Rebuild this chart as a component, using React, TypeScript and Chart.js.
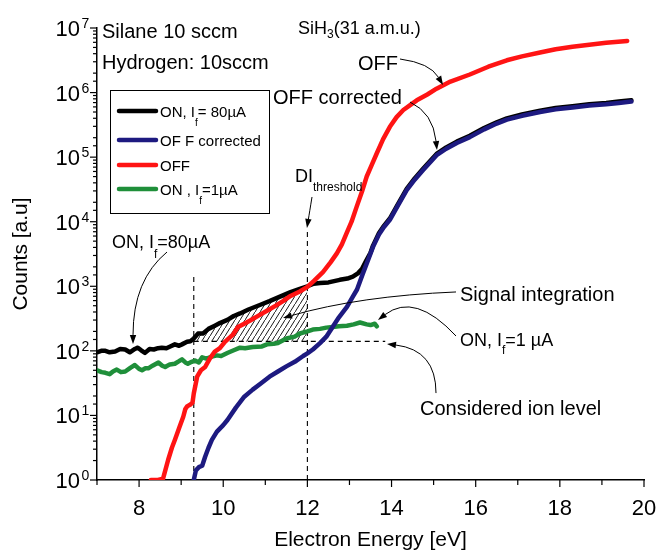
import { useEffect, useRef } from 'react';
import { Chart, registerables } from 'chart.js';

Chart.register(...registerables);

const FONT = "'Liberation Sans', Arial, Helvetica, sans-serif";

// ---------- axis ranges / ticks ----------
const X_MIN = 7;
const X_MAX = 20;
const Y_MIN = 1;
const Y_MAX = 1e7;
const xTickLabels = [8, 10, 12, 14, 16, 18, 20];

// ---------- series: ON, If = 80 µA (black) ----------
const onHighX = [7.0, 7.1, 7.2, 7.3, 7.43, 7.55, 7.67, 7.78, 7.9, 7.97, 8.05, 8.14, 8.25, 8.35, 8.45, 8.54, 8.65, 8.74, 8.85, 8.95, 9.02, 9.14, 9.22, 9.3, 9.4, 9.52, 9.65, 9.8, 9.92, 10.1, 10.25, 10.4, 10.6, 10.87, 11.1, 11.35, 11.6, 11.82, 12.0, 12.15, 12.3, 12.5, 12.77, 12.95, 13.08, 13.2, 13.3, 13.4, 13.5, 13.56, 13.7, 13.8, 13.96, 14.15, 14.36, 14.55, 14.75, 15.07, 15.3, 15.55, 15.86, 16.2, 16.5, 16.74, 17.1, 17.53, 17.9, 18.3, 18.7, 19.1, 19.4, 19.7];
const onHighY = [95, 100, 100, 95, 98, 107, 105, 95, 107, 112, 102, 93, 107, 105, 110, 112, 110, 117, 126, 120, 126, 138, 141, 155, 185, 186, 219, 245, 269, 302, 347, 380, 437, 513, 589, 692, 813, 912, 1000, 1096, 1122, 1148, 1259, 1318, 1413, 1585, 1862, 2512, 3311, 4266, 6607, 8318, 11220, 18621, 32359, 46774, 66069, 112202, 141254, 173780, 213796, 281838, 346737, 398107, 457088, 524807, 575440, 616595, 660693, 691831, 724436, 758578];

// ---------- series: OFF corrected (navy) ----------
const offCorrX = [9.3, 9.35, 9.42, 9.5, 9.57, 9.65, 9.73, 9.85, 10.0, 10.1, 10.3, 10.5, 10.7, 10.9, 11.1, 11.3, 11.5, 11.7, 11.9, 12.0, 12.13, 12.3, 12.45, 12.6, 12.75, 12.94, 13.08, 13.18, 13.32, 13.45, 13.56, 13.7, 13.8, 13.96, 14.15, 14.36, 14.55, 14.75, 15.07, 15.3, 15.55, 15.86, 16.2, 16.5, 16.74, 17.1, 17.53, 17.9, 18.3, 18.7, 19.1, 19.4, 19.7];
const offCorrY = [1, 1.41, 1.58, 1.66, 2.29, 3.16, 4.17, 5.62, 7.08, 8.51, 13.2, 19.5, 25.1, 31.6, 39.8, 47.9, 57.5, 67.6, 83.2, 91.2, 105, 132, 166, 234, 331, 479, 692, 891, 1585, 2630, 4074, 6310, 7943, 10715, 17783, 30903, 44668, 63096, 107152, 134896, 165959, 204174, 269153, 331131, 380189, 436516, 501187, 549541, 588844, 630957, 660693, 691831, 724436];

// ---------- series: OFF (red) ----------
const offX = [8.28, 8.45, 8.57, 8.69, 8.78, 8.85, 8.95, 9.05, 9.1, 9.14, 9.22, 9.27, 9.3, 9.38, 9.47, 9.57, 9.68, 9.8, 9.92, 10.04, 10.23, 10.35, 10.5, 10.64, 10.85, 11.04, 11.25, 11.42, 11.6, 11.82, 12.0, 12.15, 12.37, 12.55, 12.7, 12.82, 12.93, 13.05, 13.17, 13.3, 13.41, 13.53, 13.65, 13.8, 13.96, 14.12, 14.28, 14.45, 14.6, 14.85, 15.07, 15.4, 15.86, 16.3, 16.74, 17.1, 17.53, 17.9, 18.3, 18.7, 19.1, 19.6];
const offY = [1, 1, 1.05, 2.04, 3.16, 4.17, 6.31, 9.55, 12.6, 13.8, 14.8, 15.8, 21.9, 39.8, 50.1, 56.2, 75.9, 97.7, 110, 138, 178, 234, 263, 295, 355, 417, 501, 589, 708, 832, 977, 1202, 1660, 2344, 3236, 4467, 6607, 10000, 16982, 29512, 50119, 75858, 114815, 190546, 295121, 416869, 537032, 645654, 758578, 933254, 1148154, 1479108, 1905461, 2511886, 3162278, 3630781, 4168694, 4677351, 5128614, 5495409, 5888437, 6309573];

// ---------- series: ON, If = 1 µA (green) ----------
const onLowX = [7.0, 7.11, 7.2, 7.3, 7.38, 7.47, 7.57, 7.67, 7.8, 7.9, 8.0, 8.07, 8.15, 8.22, 8.32, 8.46, 8.55, 8.62, 8.73, 8.85, 8.95, 9.02, 9.1, 9.16, 9.25, 9.33, 9.42, 9.5, 9.6, 9.73, 9.85, 9.95, 10.11, 10.25, 10.4, 10.52, 10.7, 10.92, 11.04, 11.2, 11.3, 11.5, 11.7, 11.82, 12.0, 12.13, 12.3, 12.45, 12.6, 12.75, 12.94, 13.1, 13.25, 13.41, 13.5, 13.6, 13.65];
const onLowY = [50.1, 46.8, 45.7, 43.6, 47.9, 51.3, 46.8, 47.9, 55.0, 60.3, 52.5, 50.1, 53.7, 53.7, 58.9, 66.1, 58.9, 56.2, 61.7, 63.1, 69.2, 74.1, 66.1, 63.1, 67.6, 70.8, 66.1, 79.4, 75.9, 81.3, 85.1, 83.2, 93.3, 102, 112, 110, 115, 117, 126, 129, 132, 155, 166, 186, 200, 214, 219, 229, 234, 240, 245, 257, 275, 257, 251, 263, 240];

// ---------- reference lines ----------
const ionLevelX = [9.3, 13.85];
const ionLevelY = [140, 140];
const integStartX = [9.3, 9.3];
const integStartY = [1, 1500];
const thresholdX = [12, 12];
const thresholdY = [1, 7800];
const integrationRange = [9.3, 12];
const ionLevel = 140;

// ---------- annotation arrows (data coordinates) ----------
const ARROWS = [
  { from: [8.664, 3396], ctrl: [7.856, 1250], to: [7.856, 128] },
  { from: [14.201, 3.31e6], ctrl: [14.914, 2.87e6], to: [15.223, 1.31e6] },
  { from: [14.439, 7.14e5], ctrl: [14.986, 4.83e5], to: [15.08, 1.29e5] },
  { from: [12.11, 24150], ctrl: [12.05, 13900], to: [11.99, 8000] },
  { from: [15.532, 817], ctrl: [13.25, 708], to: [11.42, 323] },
  { from: [15.532, 170], ctrl: [14.558, 817], to: [13.678, 301] },
  { from: [15.057, 22.2], ctrl: [15.057, 103], to: [13.892, 128] },
];

type TextItem = { text: string; x: number; y: number; size: number; subSize?: number; subDy?: number };
const TEXTS: TextItem[] = [
  { text: 'Silane 10 sccm', x: 102, y: 38, size: 20 },
  { text: 'Hydrogen: 10sccm', x: 102, y: 69, size: 20 },
  { text: 'SiH_{3}(31 a.m.u.)', x: 298, y: 34, size: 18, subSize: 12, subDy: 4 },
  { text: 'OFF', x: 358, y: 70, size: 20 },
  { text: 'OFF corrected', x: 273, y: 104, size: 20 },
  { text: 'DI_{threshold}', x: 295, y: 182, size: 18, subSize: 12, subDy: 9 },
  { text: 'ON, I_{f}=80µA', x: 112, y: 248, size: 18, subSize: 12, subDy: 10 },
  { text: 'Signal integration', x: 460, y: 301, size: 20 },
  { text: 'ON, I_{f}=1 µA', x: 460, y: 346, size: 18, subSize: 12, subDy: 8 },
  { text: 'Considered ion level', x: 420, y: 415, size: 20 },
];

const LEGEND_ORDER = [0, 1, 2, 3];
const LEGEND_BOX = { x: 110.5, y: 90.5, w: 159, h: 123 };
const LEGEND_ROWS = [111, 140, 165, 189];

const pts = (xs: number[], ys: number[]) => xs.map((x, i) => ({ x, y: ys[i] }));

type Seg = { t: string; sub?: boolean };
function parseRich(s: string): Seg[] {
  const out: Seg[] = [];
  const re = /_\{([^}]*)\}/g;
  let last = 0;
  let m: RegExpExecArray | null;
  while ((m = re.exec(s))) {
    if (m.index > last) out.push({ t: s.slice(last, m.index) });
    out.push({ t: m[1], sub: true });
    last = m.index + m[0].length;
  }
  if (last < s.length) out.push({ t: s.slice(last) });
  return out;
}

function drawRich(ctx: CanvasRenderingContext2D, s: string, x: number, y: number, size: number, subSize?: number, subDy?: number) {
  const ss = subSize ?? Math.round(size * 0.65);
  const sd = subDy ?? size * 0.45;
  let cx = x;
  ctx.textAlign = 'left';
  ctx.textBaseline = 'alphabetic';
  for (const seg of parseRich(s)) {
    ctx.font = `${seg.sub ? ss : size}px ${FONT}`;
    ctx.fillText(seg.t, cx, seg.sub ? y + sd : y);
    cx += ctx.measureText(seg.t).width;
  }
}

function makeHatch(): CanvasPattern | string {
  const c = document.createElement('canvas');
  c.width = 5;
  c.height = 8;
  const g = c.getContext('2d');
  if (!g) return 'rgba(0,0,0,0.3)';
  g.strokeStyle = '#000';
  g.lineWidth = 0.9;
  g.beginPath();
  g.moveTo(-1, 9.6);
  g.lineTo(6, -1.6);
  g.stroke();
  return g.createPattern(c, 'repeat') || 'rgba(0,0,0,0.3)';
}

const axisDecor = {
  id: 'axisDecor',
  afterDraw(chart: any) {
    const ctx: CanvasRenderingContext2D = chart.ctx;
    const { left, bottom } = chart.chartArea;
    const xs = chart.scales.x;
    const ys = chart.scales.y;
    ctx.save();
    ctx.strokeStyle = '#000';
    ctx.fillStyle = '#000';
    ctx.lineWidth = 1.2;
    for (const t of ys.ticks) {
      const e = Math.log10(t.value);
      const major = Math.abs(e - Math.round(e)) < 1e-6;
      const py = ys.getPixelForValue(t.value);
      const len = major ? 7 : 4;
      ctx.beginPath();
      ctx.moveTo(left - len, py);
      ctx.lineTo(left, py);
      ctx.stroke();
      if (major) {
        ctx.textBaseline = 'alphabetic';
        ctx.font = `22px ${FONT}`;
        ctx.textAlign = 'right';
        ctx.fillText('10', 80, py + 8);
        ctx.font = `14px ${FONT}`;
        ctx.textAlign = 'left';
        ctx.fillText(String(Math.round(e)), 81.5, py);
      }
    }
    for (const t of xs.ticks) {
      const px = xs.getPixelForValue(t.value);
      const len = t.value % 2 === 0 ? 7 : 5;
      ctx.beginPath();
      ctx.moveTo(px, bottom);
      ctx.lineTo(px, bottom + len);
      ctx.stroke();
    }
    ctx.restore();
  },
};

const annotations = {
  id: 'annotations',
  afterDraw(chart: any) {
    const ctx: CanvasRenderingContext2D = chart.ctx;
    const xs = chart.scales.x;
    const ys = chart.scales.y;
    const P = (p: number[]) => [xs.getPixelForValue(p[0]), ys.getPixelForValue(p[1])];
    ctx.save();
    ctx.fillStyle = '#000';
    ctx.strokeStyle = '#000';
    for (const t of TEXTS) drawRich(ctx, t.text, t.x, t.y, t.size, t.subSize, t.subDy);
    ctx.lineWidth = 1;
    for (const a of ARROWS) {
      const [x0, y0] = P(a.from);
      const [cx, cy] = P(a.ctrl);
      const [x1, y1] = P(a.to);
      const ang = Math.atan2(y1 - cy, x1 - cx);
      const hl = 9;
      const hw = 3.2;
      const bx = x1 - hl * Math.cos(ang);
      const by = y1 - hl * Math.sin(ang);
      ctx.beginPath();
      ctx.moveTo(x0, y0);
      ctx.quadraticCurveTo(cx, cy, bx, by);
      ctx.stroke();
      ctx.beginPath();
      ctx.moveTo(x1, y1);
      ctx.lineTo(bx + hw * Math.sin(ang), by - hw * Math.cos(ang));
      ctx.lineTo(bx - hw * Math.sin(ang), by + hw * Math.cos(ang));
      ctx.closePath();
      ctx.fill();
    }
    const b = LEGEND_BOX;
    ctx.lineWidth = 1;
    ctx.strokeRect(b.x, b.y, b.w, b.h);
    const ds = chart.data.datasets;
    LEGEND_ORDER.forEach((di, i) => {
      const d = ds[di];
      const y = LEGEND_ROWS[i];
      ctx.strokeStyle = d.borderColor;
      ctx.lineWidth = 4.5;
      ctx.lineCap = 'round';
      ctx.beginPath();
      ctx.moveTo(119, y);
      ctx.lineTo(156, y);
      ctx.stroke();
      ctx.fillStyle = '#000';
      drawRich(ctx, d.label, 160, y + 5.5, 15, 10, 9);
    });
    ctx.restore();
  },
};

export default function App() {
  const ref = useRef<HTMLCanvasElement | null>(null);
  useEffect(() => {
    if (!ref.current) return;
    const blackPts = pts(onHighX, onHighY);
    const hatchPts = blackPts.filter((p) => p.x >= integrationRange[0] && p.x <= integrationRange[1]);
    const common = { pointRadius: 0, tension: 0, borderJoinStyle: 'round' as const, borderCapStyle: 'round' as const, fill: false };
    const dashed = { ...common, borderColor: '#000', borderWidth: 1.1, borderDash: [5, 4], borderCapStyle: 'butt' as const, order: 6 };
    const chart = new Chart(ref.current, {
      type: 'line',
      data: {
        datasets: [
          { ...common, label: 'ON, I_{f}= 80µA', data: blackPts, borderColor: '#000000', borderWidth: 4.5, order: 3 },
          { ...common, label: 'OF F corrected', data: pts(offCorrX, offCorrY), borderColor: '#1d1a80', borderWidth: 4.5, order: 1 },
          { ...common, label: 'OFF', data: pts(offX, offY), borderColor: '#ff1414', borderWidth: 4.5, order: 0 },
          { ...common, label: 'ON , I_{f}=1µA', data: pts(onLowX, onLowY), borderColor: '#1f8f3a', borderWidth: 4.5, order: 2 },
          { ...common, label: 'hatch', data: hatchPts, borderColor: 'rgba(0,0,0,0)', borderWidth: 0, backgroundColor: makeHatch() as any, fill: { value: ionLevel }, order: 5 },
          { ...dashed, label: 'ion level', data: pts(ionLevelX, ionLevelY) },
          { ...dashed, label: 'start', data: pts(integStartX, integStartY) },
          { ...dashed, label: 'threshold', data: pts(thresholdX, thresholdY) },
        ] as any,
      },
      options: {
        animation: false,
        responsive: false,
        devicePixelRatio: 1,
        layout: { padding: { top: 28, right: 0, left: 0, bottom: 0 } },
        plugins: { legend: { display: false }, tooltip: { enabled: false } },
        scales: {
          x: {
            type: 'linear',
            min: X_MIN,
            max: X_MAX,
            ticks: {
              stepSize: 1,
              autoSkip: false,
              maxRotation: 0,
              padding: 9,
              color: '#000',
              font: { family: FONT, size: 22 },
              callback: (v: any) => (xTickLabels.includes(Number(v)) ? String(v) : ''),
            },
            grid: { display: true, drawOnChartArea: false, drawTicks: true, tickLength: 7, tickColor: 'rgba(0,0,0,0)' },
            border: { display: true, color: '#000', width: 1.5 },
            title: { display: true, text: 'Electron Energy [eV]', color: '#000', font: { family: FONT, size: 21 }, padding: { top: 0, bottom: 0 } },
            afterFit: (s: any) => { s.height = 73; s.paddingRight = 12; s.paddingLeft = 0; },
          },
          y: {
            type: 'logarithmic',
            min: Y_MIN,
            max: Y_MAX,
            ticks: { autoSkip: false, callback: () => '' },
            grid: { display: true, drawOnChartArea: false, drawTicks: true, tickLength: 7, tickColor: 'rgba(0,0,0,0)' },
            border: { display: true, color: '#000', width: 1.5 },
            title: { display: true, text: 'Counts [a.u]', color: '#000', font: { family: FONT, size: 21 }, padding: { top: 9, bottom: 0 } },
            afterFit: (s: any) => { s.width = 97; s.paddingTop = 0; s.paddingBottom = 0; },
          },
        },
      } as any,
      plugins: [axisDecor, annotations],
    });
    return () => chart.destroy();
  }, []);
  return (
    <div style={{ position: 'absolute', left: 0, top: 0, width: 656, height: 553, background: '#fff' }}>
      <canvas ref={ref} width={656} height={553} />
    </div>
  );
}
